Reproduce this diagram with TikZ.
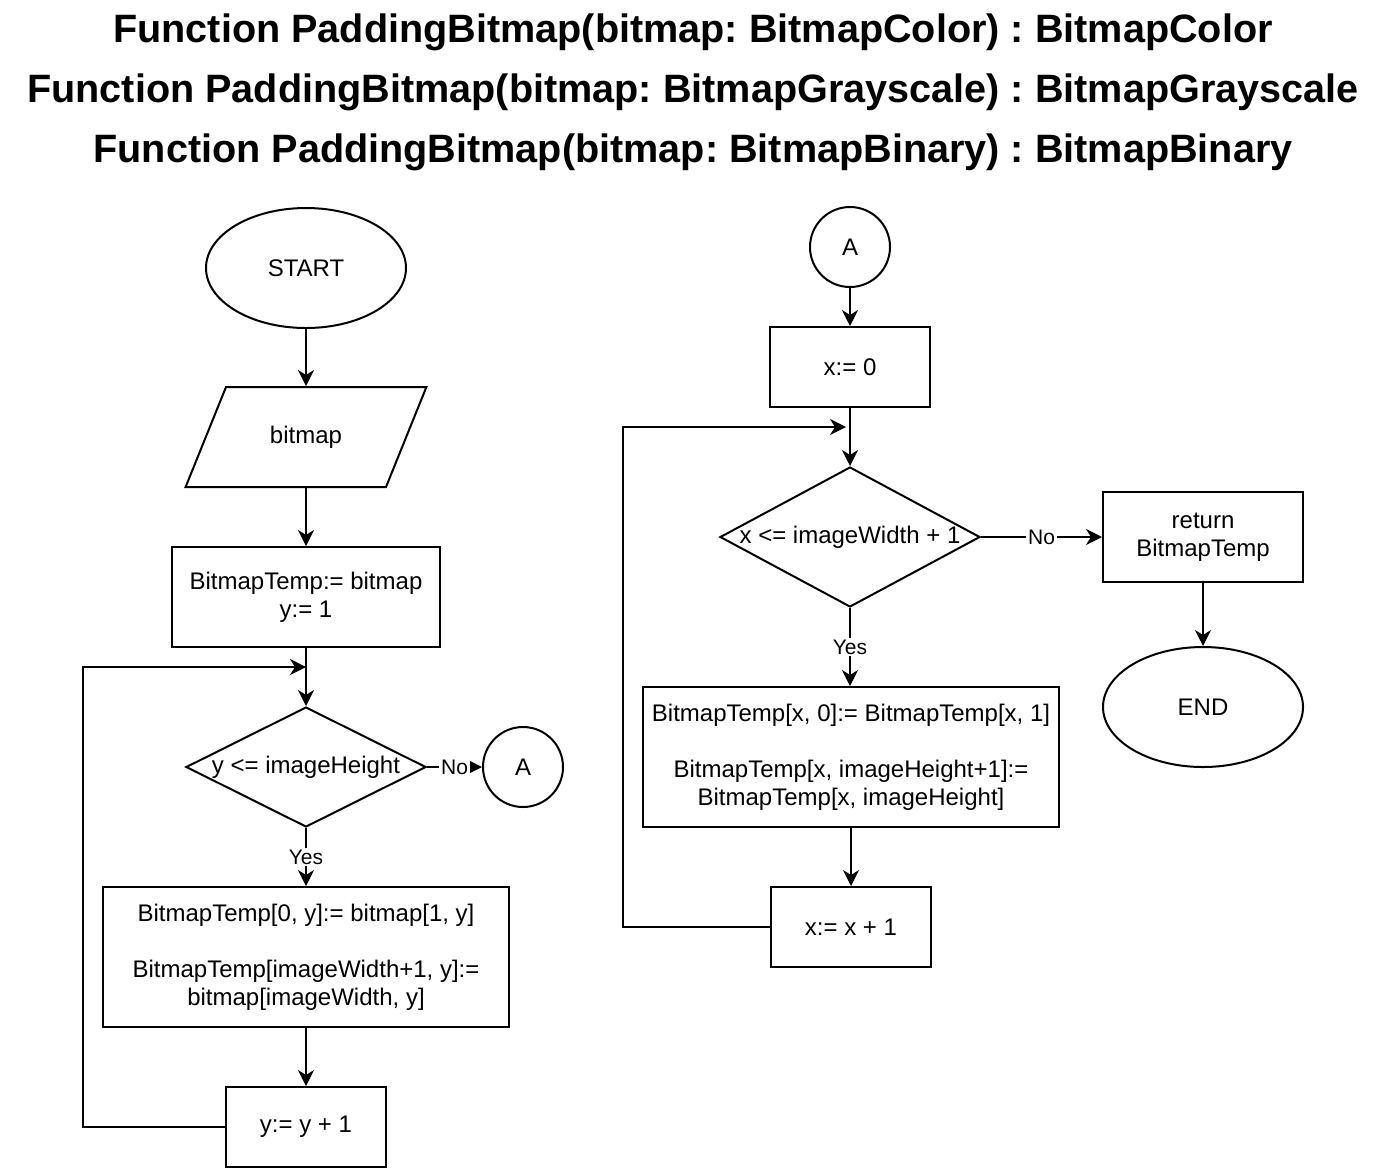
\documentclass[tikz,border=0pt]{standalone}
\usepackage{fontspec}
\setmainfont{Liberation Sans}
\usepackage{tikz}
\usetikzlibrary{shapes.geometric, arrows.meta, positioning, calc}
\frenchspacing

\begin{document}
\begin{tikzpicture}[x=0.5pt, y=-0.5pt, line width=1pt, font=\fontsize{12}{14}\selectfont,
  every node/.style={align=center},
  proc/.style={draw, rectangle, inner sep=0pt},
  term/.style={draw, ellipse, minimum width=100pt, minimum height=60pt, inner sep=0pt},
  io/.style={draw, trapezium, trapezium left angle=68, trapezium right angle=112,
    inner xsep=40pt, inner ysep=25pt},
  cond/.style={draw, diamond, inner sep=0pt},
  conn/.style={draw, circle, minimum size=40pt, inner sep=0pt},
  lbl/.style={fill=white, inner sep=1pt, font=\fontsize{10.5}{12}\selectfont},
  arr/.style={-{Stealth[length=8pt, width=8pt, inset=2.5pt]}}]
  \useasboundingbox (0,0) rectangle (1390,1174);
  % Title
  \node[font=\fontsize{19.8}{30}\selectfont\bfseries] (title) at (693,92)
    {Function PaddingBitmap(bitmap: BitmapColor) : BitmapColor\\
     Function PaddingBitmap(bitmap: BitmapGrayscale) : BitmapGrayscale\\
     Function PaddingBitmap(bitmap: BitmapBinary) : BitmapBinary};
  % Left column
  \node[term] (start) at (306,268) {START};
  \node[io, label=center:bitmap] (input) at (306,437) {};
  \node[proc, minimum width=134pt, minimum height=50pt] (init) at (306,597) {BitmapTemp:= bitmap\\y:= 1};
  \node[cond, minimum width=120pt, minimum height=60pt, label=center:{y <= imageHeight}] (ycheck) at (306,767) {};
  \node[conn] (goA) at (523,767) {A};
  \node[proc, minimum width=203pt, minimum height=70pt] (ybody) at (306,957)
    {BitmapTemp[0, y]:= bitmap[1, y]\\[14pt]BitmapTemp[imageWidth+1, y]:=\\bitmap[imageWidth, y]};
  \node[proc, minimum width=80pt, minimum height=40pt] (yinc) at (306,1127) {y:= y + 1};
  \coordinate (yjoin) at (306,667);
  \coordinate (yback) at (83,1127);
  \draw[arr] (start) -- (input);
  \draw[arr] (input) -- (init);
  \draw[arr] (init) -- (ycheck);
  \draw[arr] (ycheck) -- node[lbl] {No} (goA);
  \draw[arr] (ycheck) -- node[lbl] {Yes} (ybody);
  \draw[arr] (ybody) -- (yinc);
  \draw[arr] (yinc.west) -- (yback) |- (yjoin);
  % Right column
  \node[conn] (fromA) at (850,247) {A};
  \node[proc, minimum width=80pt, minimum height=40pt] (xinit) at (850,367) {x:= 0};
  \node[cond, minimum width=130pt, minimum height=70pt, label=center:{x <= imageWidth + 1}] (xcheck) at (850,537) {};
  \node[proc, minimum width=100pt, minimum height=45pt] (ret) at (1203,537) {return\\BitmapTemp};
  \node[term] (stop) at (1203,707) {END};
  \node[proc, minimum width=208pt, minimum height=70pt] (xbody) at (851,757)
    {BitmapTemp[x, 0]:= BitmapTemp[x, 1]\\[14pt]BitmapTemp[x, imageHeight+1]:=\\BitmapTemp[x, imageHeight]};
  \node[proc, minimum width=80pt, minimum height=40pt] (xinc) at (851,927) {x:= x + 1};
  \coordinate (xjoin) at (846,427);
  \coordinate (xback) at (623,927);
  \draw[arr] (fromA) -- (xinit);
  \draw[arr] (xinit) -- (xcheck);
  \draw[arr] (xcheck) -- node[lbl] {No} (ret);
  \draw[arr] (xcheck.south) -- node[lbl] {Yes} (xcheck.south |- xbody.north);
  \draw[arr] (ret) -- (stop);
  \draw[arr] (xbody.south -| xinc.north) -- (xinc);
  \draw[arr] (xinc.west) -- (xback) |- (xjoin);
\end{tikzpicture}
\end{document}
